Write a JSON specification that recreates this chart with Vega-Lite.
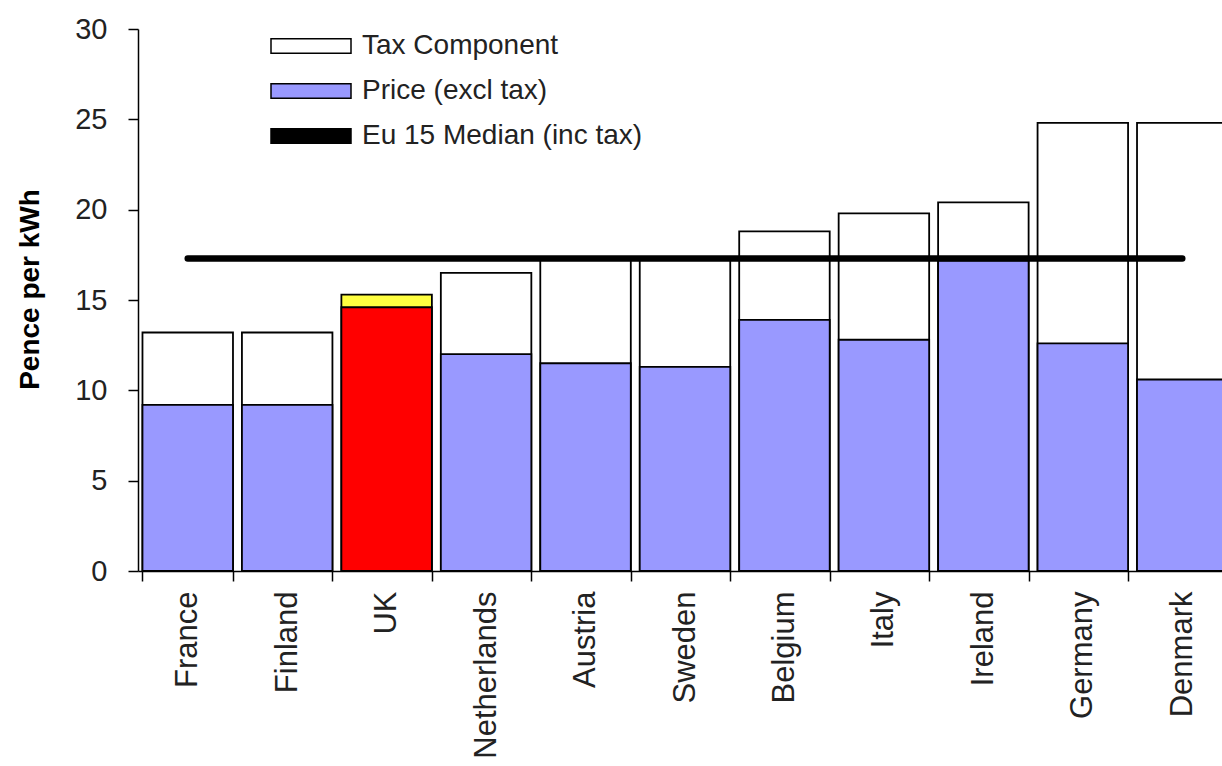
{
  "$schema": "https://vega.github.io/schema/vega-lite/v6.json",
  "autosize": "none",
  "width": 1084,
  "height": 542,
  "padding": {"left": 138, "top": 29, "right": 0, "bottom": 195},
  "background": "white",
  "data": {
    "values": [
      {"country": "France", "price": 9.2, "total": 13.2, "median": 17.3},
      {"country": "Finland", "price": 9.2, "total": 13.2, "median": 17.3},
      {"country": "UK", "price": 14.6, "total": 15.3, "median": 17.3},
      {"country": "Netherlands", "price": 12.0, "total": 16.5, "median": 17.3},
      {"country": "Austria", "price": 11.5, "total": 17.3, "median": 17.3},
      {"country": "Sweden", "price": 11.3, "total": 17.3, "median": 17.3},
      {"country": "Belgium", "price": 13.9, "total": 18.8, "median": 17.3},
      {"country": "Italy", "price": 12.8, "total": 19.8, "median": 17.3},
      {"country": "Ireland", "price": 17.2, "total": 20.4, "median": 17.3},
      {"country": "Germany", "price": 12.6, "total": 24.8, "median": 17.3},
      {"country": "Denmark", "price": 10.6, "total": 24.8, "median": 17.3}
    ]
  },
  "encoding": {
    "x": {
      "field": "country",
      "type": "nominal",
      "sort": null,
      "scale": {"range": [0, 1094], "paddingInner": 0.09, "paddingOuter": 0.045},
      "axis": {
        "title": null,
        "labelAngle": -90,
        "labelAlign": "right",
        "labelBaseline": "middle",
        "labelFontSize": 31,
        "labelPadding": 10,
        "tickSize": 10,
        "tickBand": "extent"
      }
    }
  },
  "layer": [
    {
      "mark": {"type": "bar", "stroke": "#000000", "strokeWidth": 1.8},
      "encoding": {
        "y": {
          "field": "total",
          "type": "quantitative",
          "scale": {"domain": [0, 30], "nice": false},
          "axis": {"title": "Pence per kWh", "values": [0, 5, 10, 15, 20, 25, 30]}
        },
        "color": {
          "condition": {"test": "datum.country === 'UK'", "value": "#FFFF40"},
          "datum": "Tax Component",
          "scale": {
            "domain": ["Tax Component", "Price (excl tax)", "Eu 15 Median (inc tax)"],
            "range": ["#FFFFFF", "#9999FF", "#000000"]
          },
          "legend": {
            "title": null,
            "values": ["Tax Component", "Price (excl tax)", "Eu 15 Median (inc tax)"]
          }
        }
      }
    },
    {
      "mark": {"type": "bar", "stroke": "#000000", "strokeWidth": 1.8},
      "encoding": {
        "y": {
          "field": "price",
          "type": "quantitative",
          "axis": {"title": "Pence per kWh", "values": [0, 5, 10, 15, 20, 25, 30]}
        },
        "color": {
          "condition": {"test": "datum.country === 'UK'", "value": "#FF0000"},
          "datum": "Price (excl tax)"
        }
      }
    },
    {
      "mark": {"type": "line", "strokeWidth": 6.5, "strokeCap": "round", "color": "#000000"},
      "encoding": {
        "y": {
          "field": "median",
          "type": "quantitative",
          "axis": {"title": "Pence per kWh", "values": [0, 5, 10, 15, 20, 25, 30]}
        }
      }
    }
  ],
  "config": {
    "view": {"stroke": null},
    "font": "Liberation Sans",
    "axis": {
      "grid": false,
      "domainColor": "#000000",
      "tickColor": "#000000",
      "domainWidth": 1.5,
      "tickWidth": 1.5,
      "labelColor": "#222222",
      "labelFont": "Liberation Sans"
    },
    "axisY": {
      "labelFontSize": 29,
      "tickSize": 10,
      "labelPadding": 21,
      "titleFontSize": 28,
      "titleFontWeight": "bold",
      "titleColor": "#000000",
      "titleFont": "Liberation Sans",
      "titlePadding": 30,
      "titleY": 260
    },
    "legend": {
      "orient": "none",
      "legendX": 159,
      "legendY": 3,
      "direction": "vertical",
      "symbolSize": 400,
      "symbolType": "M-4,-0.72H4V0.72H-4Z",
      "symbolStrokeColor": "#000000",
      "symbolStrokeWidth": 1.5,
      "symbolOpacity": 1,
      "labelFontSize": 28,
      "labelColor": "#222222",
      "labelFont": "Liberation Sans",
      "labelOffset": 37,
      "rowPadding": 17,
      "padding": 0,
      "labelLimit": 0
    }
  }
}
